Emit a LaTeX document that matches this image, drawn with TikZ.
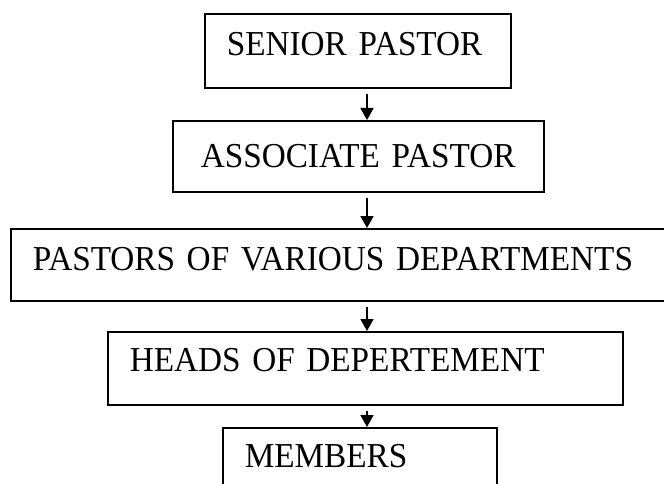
\documentclass[tikz,border=0pt]{standalone}
\usepackage{fontspec}
\setmainfont{Liberation Serif}[FakeStretch=0.95]
\usepackage{tikz}
\usetikzlibrary{arrows.meta}
\tikzset{
    org-box/.style = {draw, line width=1.6pt, rectangle, anchor=north west, align=left, inner xsep=22pt, inner ysep=0pt, text height=42pt, font=\fontsize{35}{40}\selectfont},
    org-arrow/.style = {line width=1.8pt, -{Triangle[length=12pt, width=13pt]}, shorten <=5pt},
}

\begin{document}
\begin{tikzpicture}[x=1pt, y=-1pt]
\clip (0,0) rectangle (664,484);
\coordinate (spine) at (367,0);
\node [org-box, text width=262pt, text depth=32pt] (senior) at (204,13) {SENIOR PASTOR};
\node [org-box, inner xsep=28pt, text width=315pt, text height=47pt, text depth=24pt] (associate) at (172,120) {ASSOCIATE PASTOR};
\node [org-box, text width=621pt, text depth=30pt] (pastors) at (10,228) {PASTORS OF VARIOUS DEPARTMENTS};
\node [org-box, text width=471pt, text height=40pt, text depth=33pt] (heads) at (107,331) {HEADS OF DEPERTEMENT};
\node [org-box, text width=230pt, text height=40pt, text depth=40pt] (members) at (222,427) {MEMBERS};
\draw [org-arrow] (senior.south -| spine) -- (associate.north -| spine);
\draw [org-arrow] (associate.south -| spine) -- (pastors.north -| spine);
\draw [org-arrow] (pastors.south -| spine) -- (heads.north -| spine);
\draw [org-arrow] (heads.south -| spine) -- (members.north -| spine);
\end{tikzpicture}
\end{document}
